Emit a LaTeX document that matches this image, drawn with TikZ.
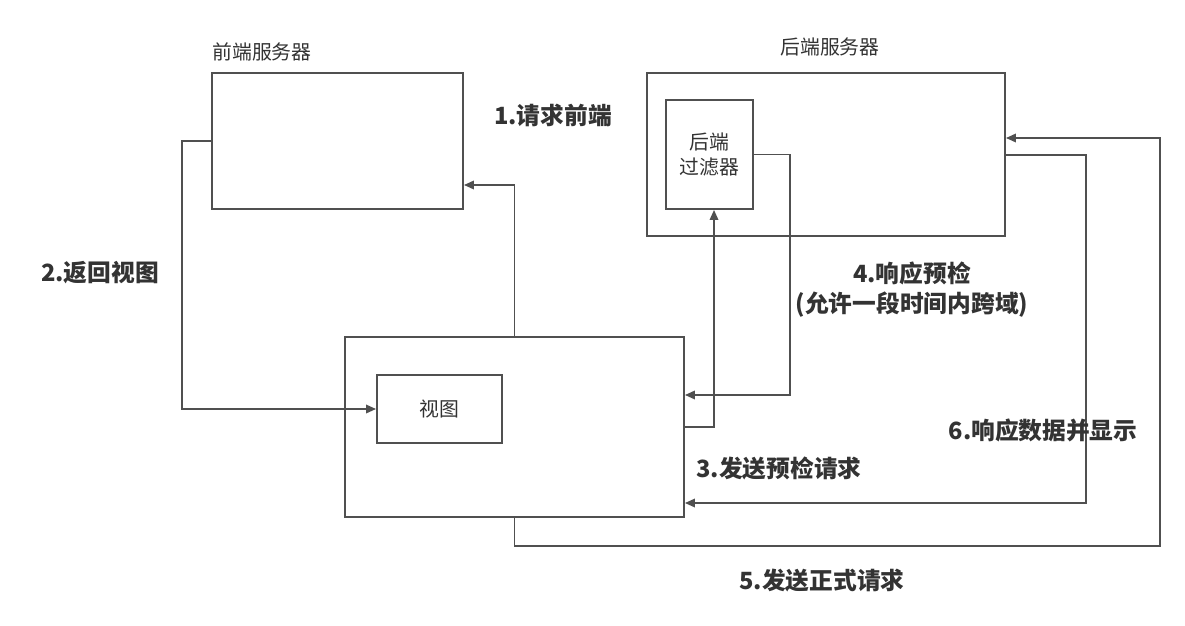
\documentclass[tikz,border=0pt]{standalone}
\usepackage{fontspec}
\setmainfont{Noto Sans CJK SC}
\usepackage{tikz}
\usetikzlibrary{arrows.meta,positioning,calc}
\definecolor{edge}{RGB}{80,80,80}
\definecolor{ink}{RGB}{51,51,51}

\begin{document}
\begin{tikzpicture}[x=0.02cm, y=-0.02cm, >={Triangle[length=2mm,width=1.7mm]},
  box/.style={rectangle, draw=edge, line width=1.1pt, fill=white, inner sep=0pt,
              align=center, text=ink, font=\fontsize{11.3}{14}\selectfont},
  ttl/.style={text=ink, font=\fontsize{11.3}{14}\selectfont},
  stp/.style={text=ink, align=center, font=\fontsize{13.5}{17}\selectfont\bfseries},
  wire/.style={draw=edge, line width=1pt}]
  \useasboundingbox (0,0) rectangle (1185,625);
  % boxes
  \node[box, minimum width=5.02cm, minimum height=2.72cm] (fe) at (337.5,141) {};
  \node[box, minimum width=7.16cm, minimum height=3.26cm] (be) at (826,154.5) {};
  \node[box, minimum width=1.74cm, minimum height=2.18cm] (flt) at (709.5,154.5) {后端\\过滤器};
  \node[box, minimum width=6.78cm, minimum height=3.6cm] (cl) at (514.5,427) {};
  \node[box, minimum width=2.5cm, minimum height=1.36cm] (vw) at (439.5,409) {视图};
  \node[ttl] (feT) at (262,52) {前端服务器};
  \node[ttl] (beT) at (830,47) {后端服务器};
  % connectors
  \draw[wire, ->] (cl.north) |- (fe.east |- 0,185);
  \draw[wire, ->] (fe.west |- 0,141) -- (182,141) |- (vw.west);
  \draw[wire, ->] (cl.east |- 0,427) -| (flt.south -| 714,0);
  \draw[wire, ->] (flt.east) -- (790,154.5) |- (cl.east |- 0,395);
  \draw[wire, ->] (cl.south) -- (514.5,546) -| (1160,138) -- (be.east |- 0,138);
  \draw[wire, ->] (be.east |- 0,155) -| (1086,503) -- (cl.east |- 0,503);
  % step labels
  \node[stp] (s1) at (553,115) {1.请求前端};
  \node[stp] (s2) at (100,273) {2.返回视图};
  \node[stp] (s3) at (779,468) {3.发送预检请求};
  \node[stp] (s4) at (912,290) {4.响应预检\\(允许一段时间内跨域)};
  \node[stp] (s5) at (822,581) {5.发送正式请求};
  \node[stp] (s6) at (1043,430) {6.响应数据并显示};
\end{tikzpicture}
\end{document}
